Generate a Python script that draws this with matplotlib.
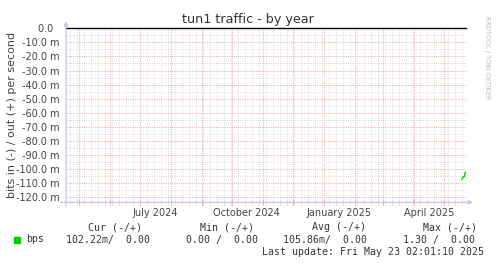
import matplotlib
matplotlib.use("Agg")
import matplotlib.pyplot as plt
import matplotlib.dates as mdates
from matplotlib.ticker import MultipleLocator
from datetime import datetime, timedelta

# data (values in milli-bits per second, "in" is drawn negative)
in_dates = [datetime(2025, 5, 19, 0), datetime(2025, 5, 20, 8),
            datetime(2025, 5, 21, 8), datetime(2025, 5, 22, 8)]
in_values = [-107.3, -105.4, -105.4, -102.2]

y_ticks = [0, -10, -20, -30, -40, -50, -60, -70, -80, -90, -100, -110, -120]
y_labels = ["0.0  "] + ["%.1f m" % v for v in y_ticks[1:]]

x_label_dates = [datetime(2024, 7, 16), datetime(2024, 10, 16),
                 datetime(2025, 1, 16), datetime(2025, 4, 16)]
x_labels = ["July 2024", "October 2024", "January 2025", "April 2025"]

end = datetime(2025, 5, 23, 2, 1, 10)
start = end - timedelta(days=400)

W, H = 497, 264
fig = plt.figure(figsize=(W / 100, H / 100), dpi=100)
fig.patch.set_facecolor("white")

# plot area in pixel terms
left, right, top, bottom = 66, 466, 28.3, 202.3
ax = fig.add_axes([left / W, 1 - bottom / H, (right - left) / W, (bottom - top) / H])
ax.set_xlim(start, end)
ax.set_ylim(-123.6, 0)
for s in ax.spines.values():
    s.set_visible(False)

major_c = "#eeaaaa"
minor_c = "#dedede"
dot = (0, (1, 1.2))

ax.xaxis.set_major_locator(mdates.MonthLocator())
ax.xaxis.set_minor_locator(mdates.WeekdayLocator(byweekday=mdates.MO))
ax.yaxis.set_major_locator(MultipleLocator(10))
ax.yaxis.set_minor_locator(MultipleLocator(5))
ax.grid(which="minor", color=minor_c, linestyle=dot, linewidth=0.72)
ax.grid(which="major", color=major_c, linestyle=dot, linewidth=0.72)
ax.set_axisbelow(True)

ax.set_yticks(y_ticks)
ax.set_yticklabels(y_labels)
ax.tick_params(axis="y", which="both", length=0, pad=4.8, labelsize=7, labelcolor="#444444")
ax.tick_params(axis="x", which="major", direction="inout", length=4, width=0.72,
               color=major_c, labelbottom=False)
ax.tick_params(axis="x", which="minor", direction="inout", length=4, width=0.72,
               color=minor_c, labelbottom=False)

for d, lab in zip(x_label_dates, x_labels):
    ax.text(d, -0.06, lab, transform=ax.get_xaxis_transform(), ha="center", va="center",
            fontsize=7, color="#444444")

# zero line and data
ax.axhline(0, color="black", linewidth=1.0, clip_on=False, zorder=3)
ax.plot(in_dates, in_values, color="#00cc00", linewidth=1.0, zorder=4)

# axes with arrows
axis_c = "#c4c4f4"
ax.annotate("", xy=(1 + 7 / 400, 0), xytext=(-6 / 400, 0), xycoords="axes fraction",
            arrowprops=dict(arrowstyle="-|>", color=axis_c, lw=0.9, mutation_scale=6,
                            shrinkA=0, shrinkB=0), annotation_clip=False)
ax.annotate("", xy=(0, 1 + 7 / 174), xytext=(0, -4 / 174), xycoords="axes fraction",
            arrowprops=dict(arrowstyle="-|>", color=axis_c, lw=0.9, mutation_scale=6,
                            shrinkA=0, shrinkB=0), annotation_clip=False)

# title, axis label, watermark
fig.text(248 / W, 1 - 19 / H, "tun1 traffic - by year", ha="center", va="center",
         fontsize=9.2, color="#333333")
fig.text(12 / W, 1 - 115 / H, "bits in (-) / out (+) per second", rotation=90,
         ha="center", va="center", fontsize=8, color="#444444")
fig.text(487 / W, 1 - 58 / H, "RRDTOOL / TOBI OETIKER", rotation=270,
         ha="center", va="center", fontsize=4.7, color="#bbbbbb")

# legend block
mono = dict(family="DejaVu Sans Mono", fontsize=7.1, color="#333333", va="center", ha="left")
for x, t in [(88, "Cur (-/+)"), (200.5, "Min (-/+)"), (311.7, "Avg (-/+)"), (422.7, "Max (-/+)")]:
    fig.text(x / W, 1 - 227 / H, t, **mono)
fig.patches.append(plt.Rectangle((14 / W, 1 - 243 / H), 6 / W, 6 / H, color="#00cc00",
                                 transform=fig.transFigure, figure=fig))
for x, t in [(26.5, "bps"), (66.3, "102.22m/  0.00"), (186, "0.00 /  0.00"),
             (283.3, "105.86m/  0.00"), (403.3, "1.30 /  0.00")]:
    fig.text(x / W, 1 - 239.5 / H, t, **mono)
fig.text(261.7 / W, 1 - 251.7 / H, "Last update: Fri May 23 02:01:10 2025", **mono)

fig.savefig("out.png", dpi=100)
